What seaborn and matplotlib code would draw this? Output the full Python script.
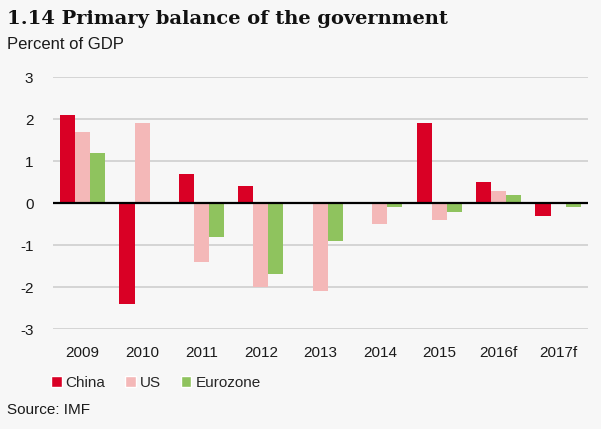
import pandas as pd
import matplotlib.pyplot as plt
import seaborn as sns
from matplotlib.patches import Patch

years = ['2009', '2010', '2011', '2012', '2013', '2014', '2015', '2016f', '2017f']
china = [2.1, -2.4, 0.7, 0.4, 0.0, 0.0, 1.9, 0.5, -0.3]
us = [1.7, 1.9, -1.4, -2.0, -2.1, -0.5, -0.4, 0.3, 0.0]
eurozone = [1.2, 0.0, -0.8, -1.7, -0.9, -0.1, -0.2, 0.2, -0.1]
series = ['China', 'US', 'Eurozone']
colors = {'China': '#d90025', 'US': '#f4b8b8', 'Eurozone': '#8fc35e'}

df = pd.DataFrame({'Year': years, 'China': china, 'US': us, 'Eurozone': eurozone})
df = df.melt(id_vars='Year', var_name='Region', value_name='Value')

bg = '#f7f7f7'
sns.set_style('white')
plt.rcParams['font.family'] = ['Liberation Sans', 'DejaVu Sans']

fig = plt.figure(figsize=(6.01, 4.29), dpi=100, facecolor=bg)
ax = fig.add_axes([0.088, 0.233, 0.89, 0.587])
ax.set_facecolor(bg)

sns.barplot(data=df, x='Year', y='Value', hue='Region', hue_order=series,
            palette=colors, width=0.76, saturation=1, legend=False,
            linewidth=0, ax=ax)

ax.set_ylim(-3, 3)
ax.set_yticks([-3, -2, -1, 0, 1, 2, 3])
ax.set_yticklabels(['-3', '-2', '-1', '0', '1', '2', '3'])
ax.set_xlim(-0.5, len(years) - 0.5)
for v in [-3, -2, -1, 1, 2, 3]:
    ax.axhline(v, color='#cfcfcf', lw=1.2, zorder=0)
ax.axhline(0, color='black', lw=1.6, zorder=3)
for s in ax.spines.values():
    s.set_visible(False)
ax.tick_params(axis='both', length=0, labelsize=11, colors='#1a1a1a')
ax.tick_params(axis='x', pad=12)
ax.tick_params(axis='y', pad=14)
ax.set_xlabel('')
ax.set_ylabel('')

fig.text(0.012, 0.945, '1.14 Primary balance of the government', fontsize=14,
         fontweight='bold', family='DejaVu Serif', color='#111111')
fig.text(0.012, 0.885, 'Percent of GDP', fontsize=12, color='#1a1a1a')

handles = [Patch(facecolor=colors[s], label=s) for s in series]
fig.legend(handles=handles, loc='center left', bbox_to_anchor=(0.062, 0.107),
           ncol=3, frameon=False, fontsize=11, handlelength=0.7, handleheight=0.7,
           handletextpad=0.25, columnspacing=1.3)

fig.text(0.012, 0.035, 'Source: IMF', fontsize=11, color='#1a1a1a')

plt.savefig('out.png', dpi=100, facecolor=bg)
plt.close()
